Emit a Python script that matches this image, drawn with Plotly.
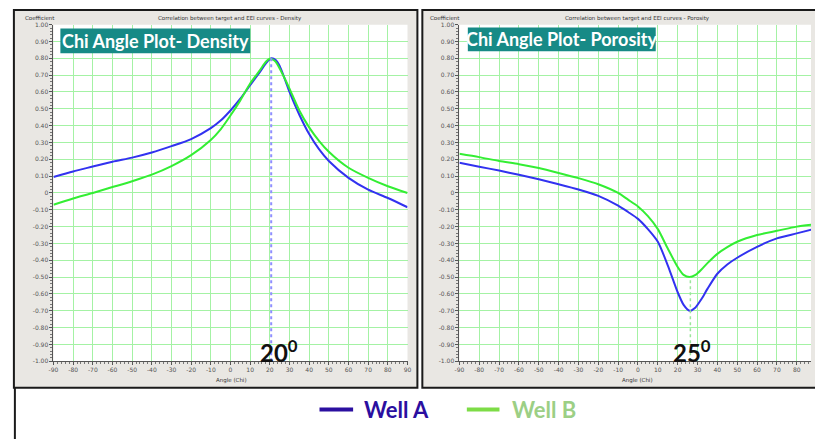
import plotly.graph_objects as go

W, H = 815, 442

# ---------------- data ----------------
angles_density = [-90, -80, -70, -60, -50, -40, -30, -20, -10, -5, 0, 5, 10, 15, 18, 20, 21, 23, 25, 28, 30, 35, 40, 45, 50, 60, 70, 80, 90]
density_well_a = [0.095, 0.128, 0.157, 0.186, 0.21, 0.24, 0.278, 0.32, 0.385, 0.43, 0.49, 0.56, 0.64, 0.72, 0.77, 0.795, 0.80, 0.79, 0.755, 0.665, 0.60, 0.465, 0.35, 0.26, 0.19, 0.09, 0.02, -0.03, -0.085]
density_well_b = [-0.07, -0.033, 0.0, 0.035, 0.07, 0.109, 0.16, 0.225, 0.315, 0.378, 0.46, 0.55, 0.65, 0.73, 0.78, 0.797, 0.795, 0.78, 0.74, 0.67, 0.62, 0.49, 0.39, 0.31, 0.245, 0.15, 0.09, 0.04, 0.0]

angles_porosity = [-90, -80, -70, -60, -50, -40, -30, -20, -10, -5, 0, 5, 10, 15, 20, 23, 26, 29, 32, 35, 40, 45, 50, 60, 70, 80, 90]
porosity_well_a = [0.18, 0.156, 0.133, 0.108, 0.081, 0.052, 0.021, -0.017, -0.075, -0.113, -0.154, -0.215, -0.29, -0.43, -0.59, -0.665, -0.70, -0.68, -0.63, -0.57, -0.48, -0.425, -0.385, -0.32, -0.27, -0.24, -0.21]
porosity_well_b = [0.233, 0.213, 0.19, 0.171, 0.148, 0.119, 0.088, 0.052, 0.0, -0.04, -0.08, -0.138, -0.215, -0.33, -0.44, -0.487, -0.50, -0.487, -0.455, -0.417, -0.362, -0.322, -0.29, -0.25, -0.225, -0.2, -0.185]

peak_density = (20.7, 0.80)
trough_porosity = (26.4, -0.50)

x_ticks = list(range(-90, 91, 10))
y_ticks = [round(-1 + 0.1 * i, 2) for i in range(21)]
y_ticktext = ["0" if abs(v) < 1e-9 else f"{v:.2f}" for v in y_ticks]

titles = ["Correlation between target and EEI curves - Density",
          "Correlation between target and EEI curves - Porosity"]
box_labels = ["Chi Angle Plot- Density", "Chi Angle Plot- Porosity"]
angle_labels = ["20<sup>0</sup>", "25<sup>0</sup>"]
legend_names = ["Well A", "Well B"]

# ---------------- helpers ----------------
def px(x):
    return x / W

def py(y):
    return 1 - y / H

BLUE = "#3232f0"
GREEN = "#33ee33"
GRID = "#a4f2a4"

fig = go.Figure()

line_kw = dict(width=2, shape="spline", smoothing=0.7)
fig.add_trace(go.Scatter(x=angles_density, y=density_well_a, mode="lines",
                         line=dict(color=BLUE, **line_kw), xaxis="x", yaxis="y", showlegend=False))
fig.add_trace(go.Scatter(x=angles_density, y=density_well_b, mode="lines",
                         line=dict(color=GREEN, **line_kw), xaxis="x", yaxis="y", showlegend=False))
fig.add_trace(go.Scatter(x=angles_porosity, y=porosity_well_a, mode="lines",
                         line=dict(color=BLUE, **line_kw), xaxis="x2", yaxis="y2", showlegend=False))
fig.add_trace(go.Scatter(x=angles_porosity, y=porosity_well_b, mode="lines",
                         line=dict(color=GREEN, **line_kw), xaxis="x2", yaxis="y2", showlegend=False))

tickfont = dict(family="DejaVu Sans", size=6, color="#555555")

def xaxis_def(domain, rng, anchor):
    return dict(domain=domain, range=rng, anchor=anchor,
                tickvals=x_ticks, ticktext=[str(v) for v in x_ticks],
                tickfont=tickfont, ticks="outside", ticklen=3, tickcolor="#555555",
                showline=True, linecolor="#555555", linewidth=1,
                showgrid=True, gridcolor=GRID, gridwidth=1, zeroline=False,
                minor=dict(dtick=2, ticklen=2, tickcolor="#777777", ticks="outside", showgrid=False),
                fixedrange=True)

def yaxis_def(domain, anchor):
    return dict(domain=domain, range=[-1, 1], anchor=anchor,
                tickvals=y_ticks, ticktext=y_ticktext,
                tickfont=tickfont, ticks="outside", ticklen=3, tickcolor="#555555",
                showline=True, linecolor="#555555", linewidth=1,
                showgrid=True, gridcolor=GRID, gridwidth=1, zeroline=False,
                minor=dict(dtick=0.02, ticklen=2, tickcolor="#777777", ticks="outside", showgrid=False),
                fixedrange=True)

ydom = [py(363), py(21)]

shapes = [
    # panel frames
    dict(type="rect", xref="paper", yref="paper", x0=px(9), x1=px(417), y0=py(390), y1=py(6),
         fillcolor="#e9e7e3", line=dict(color="#1a1a1a", width=2), layer="below"),
    dict(type="rect", xref="paper", yref="paper", x0=px(422), x1=px(830), y0=py(390), y1=py(6),
         fillcolor="#e9e7e3", line=dict(color="#1a1a1a", width=2), layer="below"),
    # white plotting areas
    dict(type="rect", xref="x domain", yref="y domain", x0=0, x1=1, y0=0, y1=1,
         fillcolor="white", line=dict(width=0), layer="below"),
    dict(type="rect", xref="x2 domain", yref="y2 domain", x0=0, x1=1, y0=0, y1=1,
         fillcolor="white", line=dict(width=0), layer="below"),
    dict(type="line", xref="paper", yref="paper", x0=px(10), x1=px(10), y0=py(390), y1=py(442),
         line=dict(color="#1a1a1a", width=2)),
    # teal boxes
    dict(type="rect", xref="paper", yref="paper", x0=px(56), x1=px(248), y0=py(50), y1=py(25),
         fillcolor="#178a86", line=dict(width=0)),
    dict(type="rect", xref="paper", yref="paper", x0=px(468), x1=px(658), y0=py(48), y1=py(24),
         fillcolor="#178a86", line=dict(width=0)),
    # dotted markers at the peak / trough
    dict(type="line", xref="x", yref="y", x0=peak_density[0], x1=peak_density[0], y0=-1, y1=peak_density[1],
         line=dict(color="#8f8fff", width=2, dash="dot")),
    dict(type="line", xref="x2", yref="y2", x0=trough_porosity[0], x1=trough_porosity[0], y0=-1, y1=trough_porosity[1],
         line=dict(color="#9be59b", width=1.5, dash="dot")),
    # legend lines
    dict(type="line", xref="paper", yref="paper", x0=px(318), x1=px(352), y0=py(412), y1=py(412),
         line=dict(color="#2b0fa0", width=4)),
    dict(type="line", xref="paper", yref="paper", x0=px(467), x1=px(500), y0=py(412), y1=py(412),
         line=dict(color="#7ddc46", width=4)),
]

small = dict(family="DejaVu Sans", size=5.5, color="#333333")
ann = []
for cx, title in zip([228, 640], titles):
    ann.append(dict(xref="paper", yref="paper", x=px(cx), y=py(15), text=title, showarrow=False,
                    font=small, xanchor="center", yanchor="middle"))
for lx in [18, 428]:
    ann.append(dict(xref="paper", yref="paper", x=px(lx), y=py(14), text="Coefficient", showarrow=False,
                    font=small, xanchor="left", yanchor="middle"))
for cx in [229, 640]:
    ann.append(dict(xref="paper", yref="paper", x=px(cx), y=py(383), text="Angle (Chi)", showarrow=False,
                    font=small, xanchor="center", yanchor="middle"))
for cx, cy, txt in [(152, 37.5, box_labels[0]), (563, 36, box_labels[1])]:
    ann.append(dict(xref="paper", yref="paper", x=px(cx), y=py(cy), text=f"<b>{txt}</b>", showarrow=False,
                    font=dict(family="Lato", size=18, color="white"), xanchor="center", yanchor="middle"))
for cx, txt in [(277, angle_labels[0]), (695, angle_labels[1])]:
    ann.append(dict(xref="paper", yref="paper", x=px(cx), y=py(353), text=f"<b>{txt}</b>", showarrow=False,
                    font=dict(family="Lato", size=24, color="#111111"), xanchor="center", yanchor="middle"))
ann.append(dict(xref="paper", yref="paper", x=px(361), y=py(412), text=f"<b>{legend_names[0]}</b>", showarrow=False,
                font=dict(family="Lato", size=22, color="#2b0fa0"), xanchor="left", yanchor="middle"))
ann.append(dict(xref="paper", yref="paper", x=px(511), y=py(412), text=f"<b>{legend_names[1]}</b>", showarrow=False,
                font=dict(family="Lato", size=22, color="#9ccf85"), xanchor="left", yanchor="middle"))

fig.update_layout(
    width=W, height=H, autosize=False,
    margin=dict(l=0, r=0, t=0, b=0, pad=0),
    paper_bgcolor="white", plot_bgcolor="white",
    xaxis=xaxis_def([px(49), px(407)], [-90, 90], "y"),
    yaxis=yaxis_def(ydom, "x"),
    xaxis2=xaxis_def([px(459.5), 1.0], [-90, 87.2], "y2"),
    yaxis2=yaxis_def(ydom, "x2"),
    shapes=shapes,
    annotations=ann,
    showlegend=False,
)

fig.write_html("out.html")
